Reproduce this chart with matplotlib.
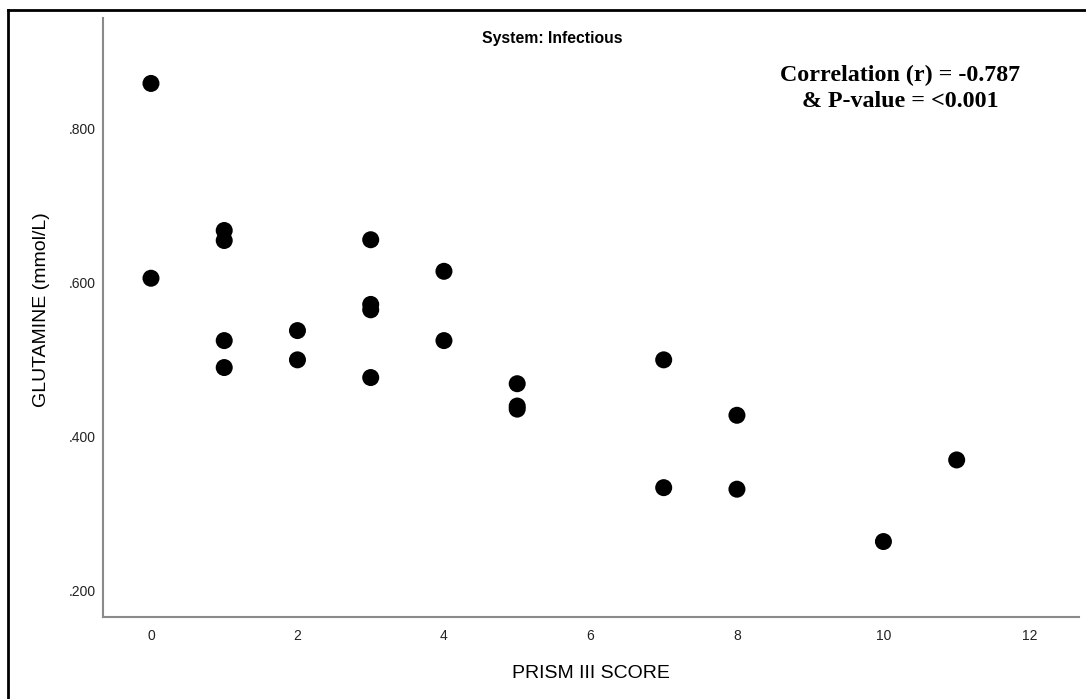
import matplotlib
matplotlib.use("Agg")
import matplotlib.pyplot as plt
from matplotlib.lines import Line2D
from matplotlib.ticker import FuncFormatter

# PRISM III score vs glutamine, infectious system
prism_score = [0, 0, 1, 1, 1, 1, 2, 2, 3, 3, 3, 3, 4, 4, 5, 5, 5, 7, 7, 8, 8, 10, 11]
glutamine = [0.858, 0.605, 0.667, 0.654, 0.524, 0.489, 0.537, 0.499, 0.655, 0.571,
             0.564, 0.476, 0.614, 0.524, 0.468, 0.439, 0.435, 0.499, 0.333, 0.427,
             0.331, 0.263, 0.369]

x_ticks = [0, 2, 4, 6, 8, 10, 12]
y_ticks = [0.2, 0.4, 0.6, 0.8]

title = "System: Infectious"
stats_text = "Correlation (r) = -0.787\n& P-value = <0.001"

plt.rcParams["font.family"] = ["Liberation Sans", "DejaVu Sans"]

W, H = 1086, 699
fig = plt.figure(figsize=(W / 100, H / 100), dpi=100)
ax = fig.add_axes([103 / W, 1 - 617 / H, 976 / W, 599 / H])

ax.scatter(prism_score, glutamine, s=150, color="black", edgecolors="none", zorder=3)

ax.set_xlim(-0.655, 12.67)
ax.set_ylim(0.165, 0.943)
ax.set_xticks(x_ticks)
ax.set_yticks(y_ticks)
ax.yaxis.set_major_formatter(FuncFormatter(lambda v, p: f"{v:.3f}".lstrip("0")))

ax.tick_params(length=0, labelsize=10, colors="#222222")
ax.tick_params(axis="y", pad=5)
ax.tick_params(axis="x", pad=8.5)

for side in ["top", "right"]:
    ax.spines[side].set_visible(False)
for side in ["left", "bottom"]:
    ax.spines[side].set_color("#8a8a8a")
    ax.spines[side].set_linewidth(1.5)

ax.set_xlabel("PRISM III SCORE", fontsize=14, va="center")
ax.xaxis.set_label_coords(0.5, -0.0935)
ax.set_ylabel("GLUTAMINE (mmol/L)", fontsize=14, va="center")
ax.yaxis.set_label_coords(-0.0625, 0.5125)

fig.text(552 / W, 1 - 39 / H, title, ha="center", va="center",
         fontsize=11.3, fontweight="bold")
fig.text(900 / W, 1 - 88.5 / H, stats_text, ha="center", va="center",
         family="Liberation Serif", fontweight="bold", fontsize=17.3,
         linespacing=1.3)

# outer frame (left and top edges visible)
fig.add_artist(Line2D([8 / W, 8 / W], [0, 1 - 10 / H], transform=fig.transFigure,
                      color="black", lw=2))
fig.add_artist(Line2D([8 / W, 1], [1 - 10 / H, 1 - 10 / H], transform=fig.transFigure,
                      color="black", lw=2))

fig.savefig("out.png", dpi=100)
